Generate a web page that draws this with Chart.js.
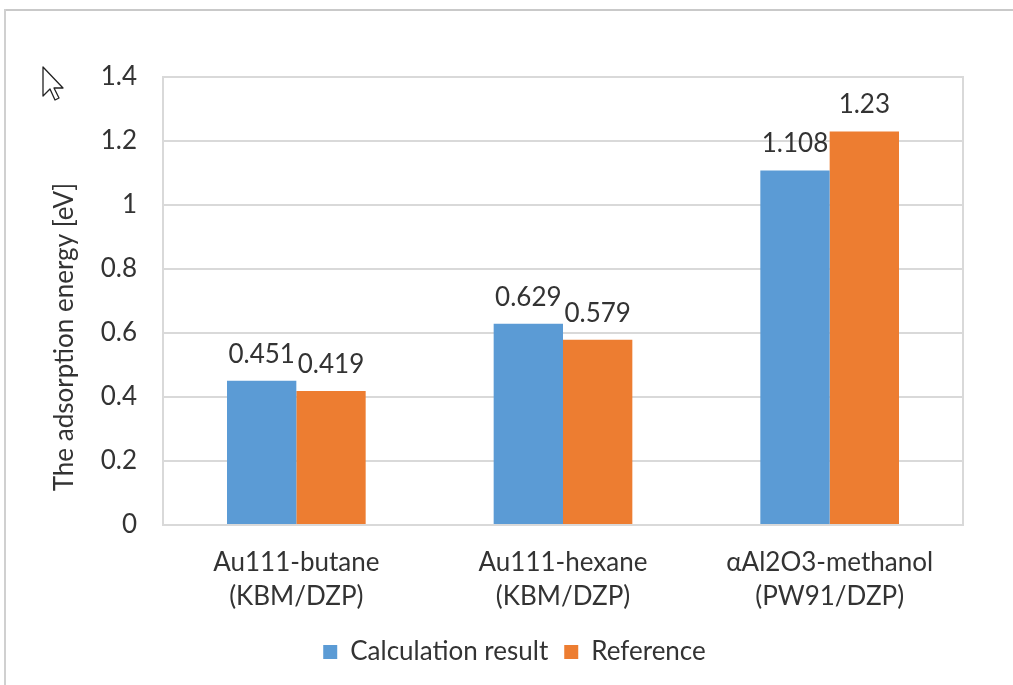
<!DOCTYPE html>
<html>
<head>
<meta charset="utf-8">
<script src="https://cdn.jsdelivr.net/npm/chart.js@4/dist/chart.umd.min.js"></script>
<style>
  html, body { margin: 0; padding: 0; background: #fff; }
  #page { position: relative; width: 1013px; height: 685px; overflow: hidden; }
  #frameTop { position: absolute; left: 4px; top: 9px; width: 1009px; height: 2px; background: #c9c9c9; }
  #frameLeft { position: absolute; left: 4px; top: 9px; width: 2px; height: 676px; background: #d0d0d0; }
  #cursor { position: absolute; left: 42px; top: 66px; }
  #chartBox { position: absolute; left: 0; top: 0; width: 1013px; height: 685px; }
</style>
</head>
<body>
<div id="page">
  <div id="frameTop"></div>
  <div id="frameLeft"></div>
  <svg id="cursor" width="26" height="38" viewBox="0 0 26 38">
    <path d="M1 1 L1 30 L8 23 L13 34 L17 32 L12 22 L21 22 Z" fill="#fff" stroke="#222" stroke-width="1.3" stroke-linejoin="round"/>
  </svg>
  <div id="chartBox"><canvas id="chart" width="1013" height="685"></canvas></div>
</div>
<script>
// dados
const categories = [
  ["Au111-butane", "(KBM/DZP)"],
  ["Au111-hexane", "(KBM/DZP)"],
  ["\u03b1Al2O3-methanol", "(PW91/DZP)"]
];
const calcValues = [0.451, 0.629, 1.108];
const refValues = [0.419, 0.579, 1.23];
const seriesNames = ["Calculation result", "Reference"];
const yTitle = "The adsorption energy [eV]";
const yMin = 0, yMax = 1.4, yStep = 0.2;

const FONT = "Lato";
const TEXT = "#333333";

// caixa da area do grafico
const plotBorder = {
  id: "plotBorder",
  beforeDatasetsDraw(chart) {
    const { ctx, chartArea: a } = chart;
    ctx.save();
    ctx.strokeStyle = "#d9d9d9";
    ctx.lineWidth = 2;
    ctx.strokeRect(a.left, a.top, a.right - a.left, a.bottom - a.top);
    ctx.restore();
  }
};

// rotulos de valor
const valueLabels = {
  id: "valueLabels",
  afterDatasetsDraw(chart) {
    const ctx = chart.ctx;
    ctx.save();
    ctx.font = `26px ${FONT}`;
    ctx.fillStyle = TEXT;
    ctx.textAlign = "center";
    ctx.textBaseline = "alphabetic";
    chart.data.datasets.forEach((ds, i) => {
      chart.getDatasetMeta(i).data.forEach((bar, j) => {
        ctx.fillText(String(ds.data[j]), bar.x, bar.y - 18);
      });
    });
    ctx.restore();
  }
};

// titulo do eixo y (centrado como no Excel)
const axisTitle = {
  id: "axisTitle",
  afterDraw(chart) {
    const ctx = chart.ctx;
    ctx.save();
    ctx.translate(65, 337);
    ctx.rotate(-Math.PI / 2);
    ctx.font = `26px ${FONT}`;
    ctx.fillStyle = TEXT;
    ctx.textAlign = "center";
    ctx.textBaseline = "middle";
    ctx.fillText(yTitle, 0, 0);
    ctx.restore();
  }
};

new Chart(document.getElementById("chart"), {
  type: "bar",
  data: {
    labels: categories,
    datasets: [
      { label: seriesNames[0], data: calcValues, backgroundColor: "#5b9bd5" },
      { label: seriesNames[1], data: refValues, backgroundColor: "#ed7d31" }
    ]
  },
  options: {
    responsive: false,
    animation: false,
    devicePixelRatio: 1,
    categoryPercentage: 0.52,
    barPercentage: 1.0,
    layout: { padding: { left: 66, right: 50, top: 77, bottom: 10 } },
    plugins: {
      legend: {
        position: "bottom",
        labels: {
          font: { family: FONT, size: 26 },
          color: TEXT,
          boxWidth: 14,
          boxHeight: 14,
          padding: 16
        }
      },
      tooltip: { enabled: false }
    },
    scales: {
      x: {
        grid: { display: false },
        border: { display: false },
        ticks: {
          color: TEXT,
          font: { family: FONT, size: 26, lineHeight: 1.3 },
          padding: 13,
          maxRotation: 0
        },
        afterFit: s => { s.height = 98; }
      },
      y: {
        min: yMin,
        max: yMax,
        grid: { color: "#d9d9d9", lineWidth: 2, drawTicks: false },
        border: { display: false },
        ticks: {
          stepSize: yStep,
          color: TEXT,
          font: { family: FONT, size: 26 },
          padding: 26,
          callback: v => String(+v.toFixed(1))
        },
        afterFit: s => { s.width = 97; }
      }
    }
  },
  plugins: [plotBorder, valueLabels, axisTitle]
});
</script>
</body>
</html>
